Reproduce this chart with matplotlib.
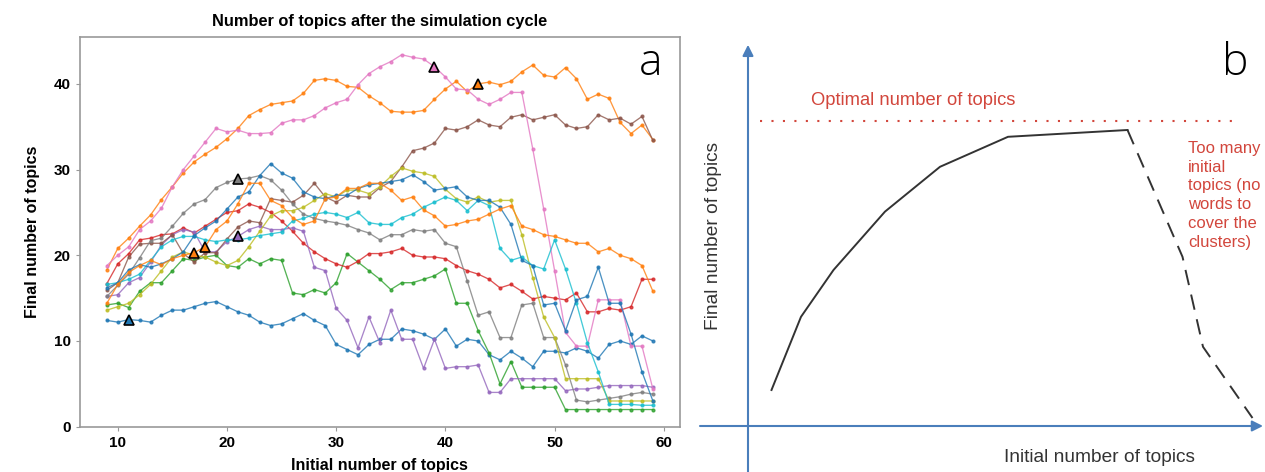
import matplotlib
matplotlib.use("Agg")
import matplotlib.pyplot as plt
from matplotlib import font_manager as fm
import numpy as np

# ---------------- data : panel a ----------------
initial_topics = list(range(9, 60))

blue_low = [12.4, 12.2, 12.5, 12.4, 12.2, 13.0, 13.6, 13.6, 14.0, 14.4, 14.6, 14.0, 13.4, 13.0, 12.2, 11.8, 12.0,
            12.6, 13.2, 12.4, 11.8, 9.6, 9.0, 8.4, 9.6, 10.2, 10.2, 11.4, 11.2, 10.8, 10.2, 11.4, 9.4, 10.2, 10.0,
            8.4, 7.8, 8.8, 8.0, 7.0, 8.8, 8.8, 8.6, 9.2, 8.8, 8.0, 9.6, 10.0, 9.6, 10.6, 10.0]
orange_top = [18.3, 20.8, 22.0, 23.4, 24.7, 26.5, 28.0, 29.6, 30.9, 31.8, 32.6, 33.6, 34.8, 36.3, 37.0, 37.6, 37.8,
              38.0, 38.9, 40.4, 40.6, 40.4, 39.7, 39.6, 38.6, 37.8, 36.8, 36.7, 36.7, 36.9, 38.2, 39.4, 40.3, 39.1,
              40.0, 40.2, 39.9, 40.3, 41.4, 42.2, 41.0, 40.8, 41.9, 40.6, 38.2, 38.8, 38.3, 35.5, 34.2, 35.2, 33.5]
green = [14.2, 14.4, 13.9, 15.8, 16.8, 16.8, 18.2, 19.6, 19.4, 19.8, 20.0, 18.8, 18.6, 19.6, 19.0, 19.6, 19.4,
         15.6, 15.4, 16.0, 15.6, 16.8, 20.2, 19.2, 18.2, 17.2, 16.0, 16.8, 16.8, 17.2, 17.6, 18.4, 14.4, 14.4, 11.2,
         8.6, 5.0, 7.6, 4.6, 4.6, 4.6, 4.6, 2.0, 2.0, 2.0, 2.0, 2.0, 2.0, 2.0, 2.0, 2.0]
red = [16.7, 19.0, 20.2, 21.8, 22.0, 22.4, 22.5, 23.2, 22.6, 23.4, 24.2, 25.0, 25.2, 26.0, 25.6, 25.0, 24.0,
       22.8, 21.4, 20.4, 19.6, 19.0, 18.6, 19.3, 20.2, 20.2, 20.4, 20.8, 20.0, 19.8, 19.8, 19.6, 18.8, 18.2, 17.8,
       17.2, 16.2, 16.6, 15.8, 14.9, 15.2, 15.0, 14.8, 15.6, 13.4, 13.4, 13.8, 13.6, 14.0, 17.2, 17.2]
purple = [15.2, 15.4, 16.8, 17.4, 19.2, 21.2, 22.4, 23.0, 22.7, 20.4, 20.4, 21.6, 22.2, 23.0, 23.4, 23.0, 23.0,
          23.2, 22.8, 18.6, 18.2, 13.8, 12.4, 9.2, 12.8, 9.8, 13.6, 10.2, 10.2, 6.8, 10.2, 6.8, 7.0, 7.0, 7.2,
          4.0, 4.0, 5.6, 5.6, 5.6, 5.6, 5.6, 4.2, 4.4, 4.4, 4.6, 4.8, 4.8, 4.8, 4.8, 4.6]
brown = [15.9, 16.8, 19.8, 21.3, 21.4, 21.4, 22.4, 20.2, 19.2, 20.3, 20.3, 21.9, 23.3, 24.0, 23.8, 26.6, 26.4,
         26.2, 27.0, 28.4, 26.8, 26.2, 27.0, 26.8, 26.8, 27.9, 28.6, 30.3, 32.2, 32.5, 33.1, 34.8, 34.6, 35.0, 35.8,
         35.2, 35.0, 36.1, 36.4, 35.8, 36.1, 36.4, 35.2, 34.8, 35.0, 36.4, 35.8, 36.0, 35.3, 36.2, 33.4]
pink = [18.8, 20.0, 21.0, 23.0, 24.0, 25.5, 28.0, 30.0, 31.6, 33.2, 34.8, 34.4, 34.6, 34.2, 34.2, 34.3, 35.4,
        35.8, 35.8, 36.3, 37.2, 37.8, 38.2, 39.9, 41.2, 42.0, 42.6, 43.4, 43.1, 42.9, 42.0, 40.8, 39.4, 39.3, 38.2,
        37.6, 38.2, 39.0, 39.0, 32.4, 25.4, 18.2, 11.0, 9.4, 9.4, 14.8, 14.8, 14.8, 9.4, 9.4, 4.4]
gray = [15.2, 16.5, 17.8, 19.7, 21.7, 22.0, 23.4, 24.9, 26.0, 26.5, 27.9, 28.5, 28.9, 29.0, 29.3, 28.8, 27.6,
        26.0, 24.8, 24.3, 24.0, 23.8, 23.5, 23.0, 22.6, 21.8, 22.4, 22.4, 23.0, 22.8, 23.0, 21.4, 21.0, 17.0, 13.0,
        13.4, 10.4, 10.4, 14.2, 14.4, 10.4, 10.4, 7.2, 3.1, 2.9, 3.1, 3.3, 3.5, 3.8, 4.0, 3.8]
olive = [13.6, 14.0, 14.4, 15.4, 16.6, 18.2, 19.8, 20.4, 20.0, 19.8, 19.2, 18.8, 19.4, 21.0, 22.8, 24.6, 25.2,
         25.2, 25.6, 26.4, 27.2, 26.8, 27.6, 27.6, 27.2, 28.0, 29.2, 30.2, 29.8, 29.6, 29.2, 27.7, 26.6, 26.2, 26.8,
         26.2, 26.4, 26.4, 22.4, 17.4, 12.8, 10.4, 5.6, 5.6, 5.6, 5.6, 3.0, 3.0, 3.0, 3.0, 3.0]
cyan = [16.6, 16.8, 17.2, 17.8, 19.4, 21.0, 21.8, 22.2, 22.2, 21.8, 21.6, 21.8, 21.8, 22.0, 22.3, 22.5, 22.7,
        24.0, 24.3, 24.8, 25.0, 24.8, 24.4, 25.0, 23.8, 23.6, 23.6, 24.4, 24.8, 25.6, 26.2, 26.8, 26.4, 25.2, 26.4,
        25.8, 20.8, 19.4, 19.8, 18.8, 18.4, 21.8, 18.4, 14.4, 9.8, 6.4, 2.6, 2.6, 2.6, 2.5, 2.5]
blue_mid = [16.2, 16.8, 18.3, 18.9, 18.6, 19.0, 19.6, 20.4, 22.3, 23.2, 24.0, 25.4, 26.8, 27.4, 29.3, 30.7, 29.6,
            29.0, 27.4, 26.8, 26.6, 27.0, 27.0, 27.8, 28.2, 28.4, 28.6, 28.8, 29.4, 28.6, 27.6, 27.8, 28.0, 26.8,
            26.4, 26.4, 25.6, 23.6, 19.4, 18.8, 14.2, 14.4, 11.2, 14.8, 15.2, 18.6, 14.4, 14.4, 10.8, 6.4, 3.0]
orange_mid = [14.4, 16.6, 18.0, 18.8, 19.4, 18.9, 19.6, 20.0, 20.3, 21.0, 23.0, 24.0, 26.0, 28.4, 28.4, 26.4, 25.8,
              24.4, 23.6, 24.0, 26.6, 26.8, 27.8, 27.8, 28.4, 28.4, 27.6, 26.4, 26.8, 25.3, 24.6, 23.4, 23.6, 24.0,
              24.2, 24.8, 25.4, 25.8, 23.4, 23.0, 22.4, 22.2, 21.8, 21.4, 21.4, 20.4, 20.8, 20.0, 19.6, 18.8, 15.8]

series_list = [blue_low, orange_top, green, red, purple, brown, pink, gray, olive, cyan, blue_mid, orange_mid]

# triangle markers: (series index, initial number of topics)
triangle_series = [0, 11, 11, 4, 7, 6, 1]
triangle_x = [11, 17, 18, 21, 21, 39, 43]

# ---------------- data : panel b (schematic) ----------------
b_solid_x = [4.7, 10.6, 17.1, 27.4, 38.4, 52.0, 75.9]
b_solid_y = [9.0, 27.3, 39.0, 53.6, 64.8, 72.3, 74.0]
b_dashed_x = [75.9, 86.9, 91.0, 100.9]
b_dashed_y = [74.0, 42.3, 19.8, 2.0]
b_optimal_level = 76.3

# ---------------- fonts ----------------
names = {f.name for f in fm.fontManager.ttflist}
bold_family = 'Liberation Sans Narrow' if 'Liberation Sans Narrow' in names else 'Liberation Sans'
reg_family = 'Liberation Sans'

fig = plt.figure(figsize=(12.65, 4.72), dpi=100)

# ---------------- panel a ----------------
ax = fig.add_axes([0.0629, 0.096, 0.4748, 0.8262])
colors = plt.rcParams['axes.prop_cycle'].by_key()['color']
for i, s in enumerate(series_list):
    ax.plot(initial_topics, s, color=colors[i % 10], lw=0.95, marker='o', ms=2.0, alpha=0.8)
for si, xv in zip(triangle_series, triangle_x):
    yv = series_list[si][initial_topics.index(xv)]
    ax.plot([xv], [yv], marker='^', ms=7.5, color=colors[si % 10], mec='black', mew=1.2, zorder=5)

ax.set_xlim(6.5, 61.5)
ax.set_ylim(0, 45.5)
ax.set_xticks([10, 20, 30, 40, 50, 60])
ax.set_yticks([0, 10, 20, 30, 40])
for sp in ax.spines.values():
    sp.set_color('#999999')
    sp.set_linewidth(1.2)
ax.tick_params(length=3, color='#999999', labelsize=11)
for lab in ax.get_xticklabels() + ax.get_yticklabels():
    lab.set_fontweight('bold')
    lab.set_family(bold_family)
ax.set_title('Number of topics after the simulation cycle', fontsize=11.8, fontweight='bold',
             family=bold_family, pad=8)
ax.set_xlabel('Initial number of topics', fontsize=11.5, fontweight='bold', family=bold_family, labelpad=6)
ax.set_ylabel('Final number of topics', fontsize=11.5, fontweight='bold', family=bold_family, labelpad=10)
ax.text(0.97, 0.93, 'a', transform=ax.transAxes, fontsize=32, ha='right', va='center',
        family='Open Sans', fontweight='light')

# ---------------- panel b ----------------
blue_ax = '#4a7ebb'
red_txt = '#d2463c'
ax2 = fig.add_axes([690 / 1265, 0, 575 / 1265, 442 / 472])
ax2.set_xlim(-11.6, 103.4)
ax2.set_ylim(-11.5, 99)
ax2.axis('off')
ax2.annotate('', xy=(0, 95.3), xytext=(0, -11.5),
             arrowprops=dict(arrowstyle='-|>', color=blue_ax, lw=1.5, mutation_scale=16, shrinkA=0, shrinkB=0))
ax2.annotate('', xy=(103.0, 0), xytext=(-9.6, 0),
             arrowprops=dict(arrowstyle='-|>', color=blue_ax, lw=1.5, mutation_scale=16, shrinkA=0, shrinkB=0))
ax2.plot(b_solid_x, b_solid_y, color='#333333', lw=1.4)
ax2.plot(b_dashed_x, b_dashed_y, color='#333333', lw=1.4, dashes=(8, 5))
ax2.plot([2.4, 98.3], [b_optimal_level, b_optimal_level], color=red_txt, lw=1.5, linestyle=(0, (1, 4.5)))
ax2.text(12.6, 81.3, 'Optimal number of topics', color=red_txt, fontsize=13.2, family=reg_family,
         ha='left', va='center')
ax2.text(88.0, 71.3, 'Too many\ninitial\ntopics (no\nwords to\ncover the\nclusters)', color=red_txt,
         fontsize=12, family=reg_family, ha='left', va='top', linespacing=1.32)
ax2.text(-7.0, 47.5, 'Final number of topics', rotation=90, color='#333333', fontsize=13.8,
         family=reg_family, ha='center', va='center')
ax2.text(70.4, -8.0, 'Initial number of topics', color='#333333', fontsize=13.8, family=reg_family,
         ha='center', va='center')
ax2.text(97.4, 90.5, 'b', fontsize=32, ha='center', va='center', family='Open Sans', fontweight='light')

fig.savefig('out.png', dpi=100)
